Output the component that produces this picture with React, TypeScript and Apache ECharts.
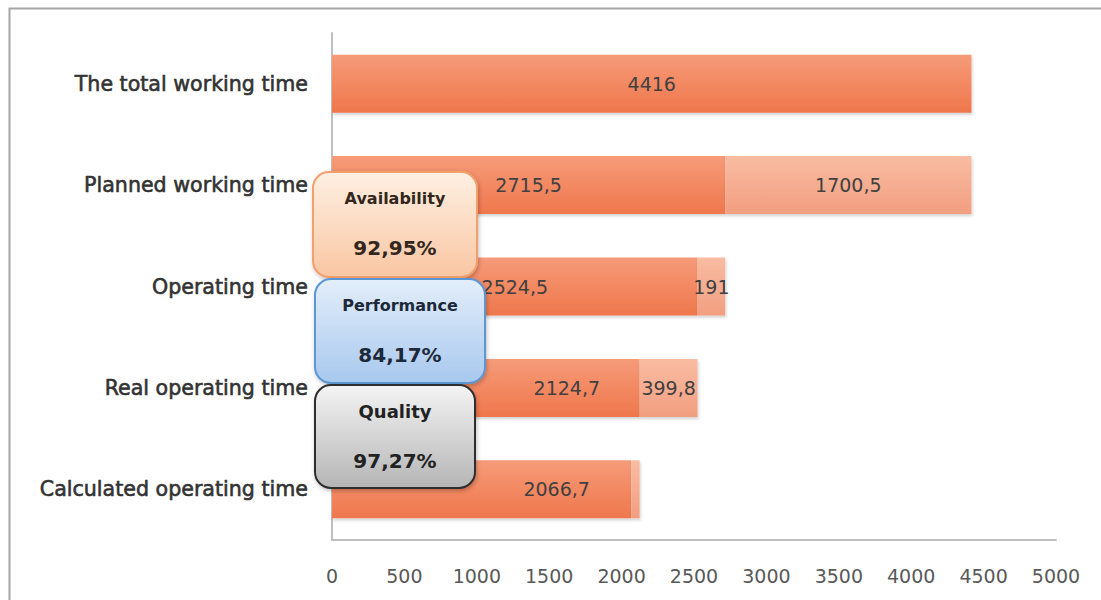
import React, { useEffect, useRef } from "react";
import * as echarts from "echarts";

const categories = [
  "The total working time",
  "Planned working time",
  "Operating time",
  "Real operating time",
  "Calculated operating time",
];
const baseValues = [4416, 2715.5, 2524.5, 2124.7, 2066.7];
const lossValues = [0, 1700.5, 191, 399.8, 58];
const lossLabelShown = [false, true, true, true, false];
const baseLabelOffsetX = [0, 0, 0, 81, 75];
const xTicks = { min: 0, max: 5000, interval: 500 };
const kpiBoxes = [
  { title: "Availability", value: "92,95%" },
  { title: "Performance", value: "84,17%" },
  { title: "Quality", value: "97,27%" },
];

const fmt = (v: number) => String(v).replace(".", ",");

const FONT = "DejaVu Sans";

export default function App() {
  const ref = useRef<HTMLDivElement>(null);
  useEffect(() => {
    if (!ref.current) return;
    const chart = echarts.init(ref.current, null, { renderer: "svg" });

    const baseGrad = new echarts.graphic.LinearGradient(0, 0, 0, 1, [
      { offset: 0, color: "#F69B79" },
      { offset: 1, color: "#EF774C" },
    ]);
    const lossGrad = new echarts.graphic.LinearGradient(0, 0, 0, 1, [
      { offset: 0, color: "#F9BCA2" },
      { offset: 1, color: "#F29E80" },
    ]);

    const boxStyles = [
      {
        x: 313, y: 172, w: 164, h: 105, titleSize: 16,
        top: "#FEF0E3", bottom: "#F9C6A2", stroke: "#F3A06C", textColor: "#33261c",
      },
      {
        x: 315, y: 279, w: 170, h: 104, titleSize: 16,
        top: "#E3EEFA", bottom: "#A8C8EE", stroke: "#5B97D3", textColor: "#1d2838",
      },
      {
        x: 315, y: 385, w: 160, h: 103, titleSize: 18,
        top: "#F4F4F4", bottom: "#B5B5B5", stroke: "#2E2E2E", textColor: "#222222",
      },
    ];

    const graphics: any[] = [
      {
        type: "rect",
        shape: { x: 9.5, y: 8.5, width: 1200, height: 700 },
        style: { fill: "none", stroke: "#A6A6A6", lineWidth: 2 },
        silent: true,
        z: 0,
      },
    ];
    kpiBoxes.forEach((b, i) => {
      const s = boxStyles[i];
      graphics.push({
        type: "rect",
        shape: { x: s.x, y: s.y, width: s.w, height: s.h, r: 16 },
        style: {
          fill: new echarts.graphic.LinearGradient(0, 0, 0, 1, [
            { offset: 0, color: s.top },
            { offset: 1, color: s.bottom },
          ]),
          stroke: s.stroke,
          lineWidth: 2,
          shadowBlur: 4,
          shadowOffsetX: 1,
          shadowOffsetY: 2,
          shadowColor: "rgba(0,0,0,0.25)",
        },
        z: 100 + i * 2,
      });
      graphics.push({
        type: "text",
        x: s.x + s.w / 2,
        y: s.y + 26,
        style: {
          text: b.title,
          fill: s.textColor,
          font: `bold ${s.titleSize}px "${FONT}"`,
          align: "center",
          verticalAlign: "middle",
        },
        z: 101 + i * 2,
      });
      graphics.push({
        type: "text",
        x: s.x + s.w / 2,
        y: s.y + 76,
        style: {
          text: b.value,
          fill: s.textColor,
          font: `bold 20px "${FONT}"`,
          align: "center",
          verticalAlign: "middle",
        },
        z: 101 + i * 2,
      });
    });

    chart.setOption({
      animation: false,
      grid: { left: 332, right: 45, top: 33, bottom: 60, containLabel: false },
      xAxis: {
        type: "value",
        min: xTicks.min,
        max: xTicks.max,
        interval: xTicks.interval,
        splitLine: { show: false },
        axisTick: { show: false },
        axisLine: { show: true, lineStyle: { color: "#BFBFBF", width: 2 } },
        axisLabel: {
          color: "#595959",
          fontSize: 19,
          fontFamily: FONT,
          margin: 26,
          formatter: (v: number) => String(v),
        },
      },
      yAxis: {
        type: "category",
        inverse: true,
        data: categories,
        axisTick: { show: false },
        axisLine: { show: true, lineStyle: { color: "#BFBFBF", width: 2 } },
        axisLabel: {
          color: "#333333",
          fontSize: 20.6,
          fontFamily: FONT,
          margin: 24,
          textBorderColor: "#333333",
          textBorderWidth: 0.6,
        },
      },
      series: [
        {
          type: "bar",
          name: "base",
          stack: "t",
          barWidth: 58,
          itemStyle: {
            color: baseGrad,
            shadowBlur: 3,
            shadowOffsetX: 1,
            shadowOffsetY: 2,
            shadowColor: "rgba(0,0,0,0.18)",
          },
          data: baseValues.map((v, i) => ({
            value: v,
            label: { offset: [baseLabelOffsetX[i], 0] },
          })),
          label: {
            show: true,
            position: "inside",
            color: "#404040",
            fontSize: 19,
            fontFamily: FONT,
            formatter: (p: any) => fmt(p.value),
          },
        },
        {
          type: "bar",
          name: "loss",
          stack: "t",
          barWidth: 58,
          itemStyle: {
            color: lossGrad,
            shadowBlur: 3,
            shadowOffsetX: 1,
            shadowOffsetY: 2,
            shadowColor: "rgba(0,0,0,0.18)",
          },
          data: lossValues.map((v, i) => ({
            value: v,
            label: { show: lossLabelShown[i] },
          })),
          label: {
            show: true,
            position: "inside",
            color: "#404040",
            fontSize: 19,
            fontFamily: FONT,
            formatter: (p: any) => fmt(p.value),
          },
        },
      ],
      graphic: graphics,
    });
    return () => chart.dispose();
  }, []);
  return (
    <div
      ref={ref}
      style={{ position: "fixed", left: 0, top: 0, width: 1101, height: 600, background: "#fff" }}
    />
  );
}
